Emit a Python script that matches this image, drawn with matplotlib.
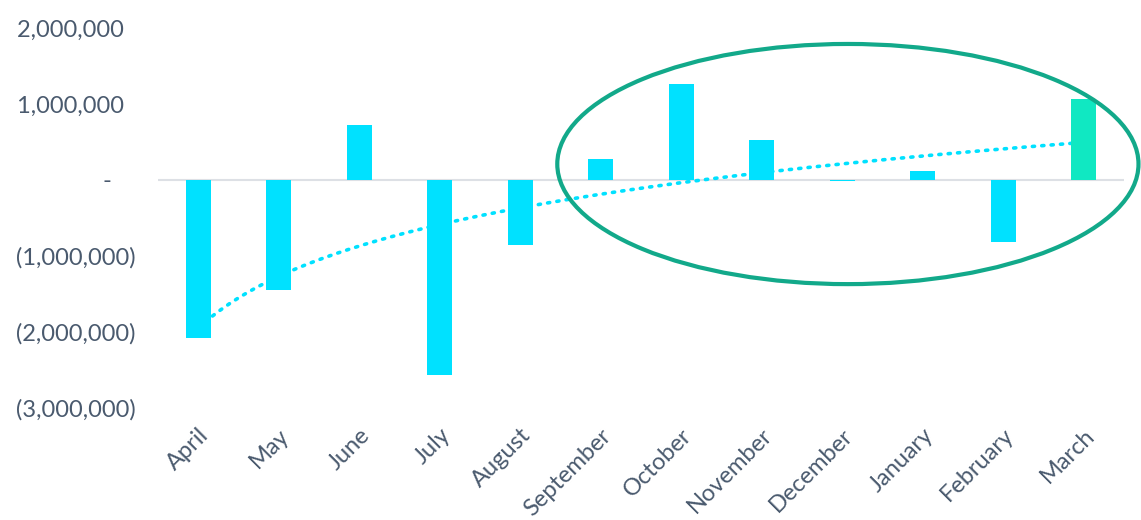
import numpy as np
import matplotlib
matplotlib.use("Agg")
import matplotlib.pyplot as plt
from matplotlib.patches import Ellipse
from matplotlib.ticker import FuncFormatter

# monthly values
months = ["April", "May", "June", "July", "August", "September",
          "October", "November", "December", "January", "February", "March"]
values = [-2080000, -1450000, 720000, -2570000, -855000, 280000,
          1260000, 530000, -10000, 120000, -820000, 1070000]

# log trendline coefficients (y = a*ln(x) + b), as shown in the chart
trend_a = 984000
trend_b = -1950000

bar_color = "#00E1FF"
last_color = "#10E8C2"
text_color = "#4A5A6E"

plt.rcParams["font.family"] = ["Lato", "DejaVu Sans"]

fig = plt.figure(figsize=(11.41, 5.20), dpi=100)
ax = fig.add_axes([158 / 1141, 1 - 408 / 520, (1124 - 158) / 1141, 380 / 520])

x = np.arange(len(months))
colors = [bar_color] * (len(months) - 1) + [last_color]
ax.bar(x, values, width=0.31, color=colors, zorder=3)

# trendline (drawn behind the bars)
tx = np.linspace(0, len(months) - 1, 200)
ty = trend_a * np.log(tx + 1) + trend_b
ax.plot(tx, ty, color=bar_color, linestyle=(0, (0.6, 2.0)), linewidth=2.6,
        dash_capstyle="round", zorder=2)

ax.axhline(0, color="#DDE0E5", linewidth=1.5, zorder=1)

ax.set_xlim(-0.5, len(months) - 0.5)
ax.set_ylim(-3000000, 2000000)
ax.set_yticks([-3000000, -2000000, -1000000, 0, 1000000, 2000000])


def fmt(v, pos):
    if v == 0:
        return "-    "
    if v < 0:
        return "({:,.0f})".format(-v)
    return "{:,.0f}  ".format(v)


ax.yaxis.set_major_formatter(FuncFormatter(fmt))
ax.set_xticks(x)
ax.set_xticklabels(months, rotation=45, ha="right", va="top",
                   rotation_mode="anchor")
ax.tick_params(axis="both", length=0, labelsize=17, colors=text_color)
ax.tick_params(axis="y", pad=16)
ax.tick_params(axis="x", pad=12)
for s in ax.spines.values():
    s.set_visible(False)

# highlight ellipse
ell = Ellipse((8.07, 210000), 7.22, 3160000, fill=False,
              edgecolor="#12A98A", linewidth=3, clip_on=False, zorder=4)
ax.add_patch(ell)

fig.savefig("out.png", dpi=100)
